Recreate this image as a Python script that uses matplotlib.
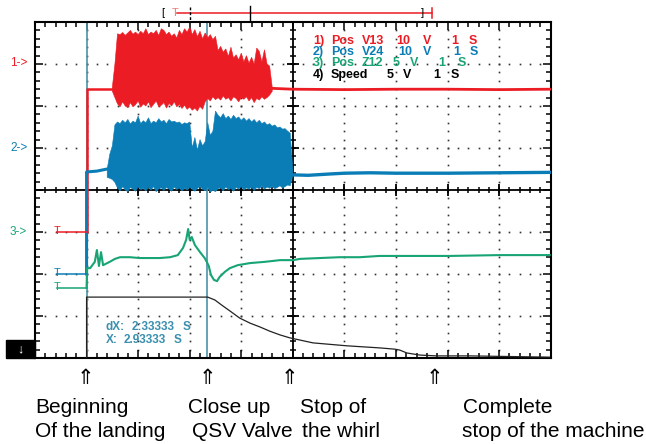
import numpy as np
import matplotlib
matplotlib.use("Agg")
import matplotlib.pyplot as plt
import matplotlib.transforms as mtransforms
from matplotlib.patches import Rectangle

plt.rcParams['font.family'] = ['Liberation Sans', 'DejaVu Sans']

# Screen units: x in seconds (1 s/div, 10 div), y in divisions (-4 .. 4)
RED = '#ec1c24'
BLUE = '#0b7db6'
GREEN = '#18a474'
CURSOR = '#4a94aa'

# Channel 1 (Pos V13) - red
ch1_pre_t = [1.0, 1.0, 1.5]
ch1_pre = [-1.0, 2.40, 2.40]
ch1_hi = [2.45, 3.00,
          3.72, 3.70, 3.75, 3.68, 3.74, 3.80, 3.71, 3.76, 3.70, 3.78,
          3.72, 3.84, 3.70, 3.76, 3.72, 3.80, 3.68, 3.84, 3.80, 3.70,
          3.76, 3.66, 3.72, 3.62, 3.80, 3.70, 3.84, 3.76, 3.88, 3.70,
          3.82, 3.65, 3.78, 3.60, 3.74, 3.62, 3.70, 3.58, 3.66, 3.32,
          3.42, 3.28, 3.36, 3.18, 3.40, 3.14, 3.22, 3.10, 3.26, 3.05,
          3.20, 3.02, 3.16, 3.00, 3.38, 3.30, 3.05, 3.34, 3.00, 2.95,
          2.45]
ch1_lo = [2.35, 2.20,
          2.05, 1.98, 2.10, 2.00, 1.96, 2.08, 1.98, 2.03, 2.12, 1.97,
          2.05, 2.00, 2.10, 1.96, 2.04, 2.12, 1.98, 2.02, 2.08, 1.95,
          2.06, 2.00, 2.10, 1.98, 2.04, 1.94, 2.02, 1.92, 1.98, 1.90,
          1.95, 1.88, 2.00, 1.92, 2.10, 2.18, 2.12, 2.22, 2.15, 2.20,
          2.14, 2.24, 2.16, 2.20, 2.12, 2.22, 2.18, 2.10, 2.20, 2.16,
          2.22, 2.12, 2.20, 2.08, 2.18, 2.14, 2.22, 2.16, 2.20, 2.26,
          2.35]
ch1_burst_span = (1.50, 4.60)
ch1_post_t = [4.6, 5.0, 6.0, 7.0, 8.0, 9.0, 10.0]
ch1_post = [2.42, 2.40, 2.39, 2.40, 2.40, 2.39, 2.40]

# Channel 2 (Pos V24) - blue
ch2_pre_t = [1.0, 1.0, 1.2, 1.4]
ch2_pre = [-2.0, 0.43, 0.45, 0.50]
ch2_hi = [0.50, 0.85, 1.05, 1.55,
          1.62, 1.58, 1.66, 1.60, 1.68, 1.57, 1.64, 1.60, 1.76, 1.58,
          1.65, 1.60, 1.72, 1.58, 1.64, 1.60, 1.70, 1.62, 1.66, 1.58,
          1.68, 1.62, 1.64, 1.60, 1.62, 1.56, 1.60, 1.58, 1.62, 1.00,
          1.25, 0.95, 1.20, 1.05, 1.15, 1.60, 1.30, 1.40, 1.88, 1.78,
          1.72, 1.82, 1.70, 1.76, 1.68, 1.78, 1.70, 1.74, 1.66, 1.72,
          1.64, 1.70, 1.62, 1.68, 1.60, 1.66, 1.58, 1.62, 1.55, 1.58,
          1.52, 1.55, 1.48, 1.50, 1.45, 1.46, 1.40, 1.35,
          0.45]
ch2_lo = [0.30, 0.28, 0.25, 0.18,
          0.05, -0.02, 0.08, 0.00, -0.04, 0.06, 0.02, -0.03, 0.07, 0.01,
          0.04, -0.02, 0.06, 0.00, 0.08, -0.04, 0.03, 0.05, -0.01, 0.06,
          0.02, -0.03, 0.07, 0.01, 0.05, -0.02, 0.04, 0.00, 0.06, 0.02,
          -0.03, 0.04, 0.08, 0.02, -0.02, 0.06, -0.05, 0.00, -0.04, 0.03,
          0.05, -0.02, 0.07, 0.01, 0.04, -0.03, 0.06, 0.02, 0.08, 0.00,
          0.05, 0.02, 0.07, -0.01, 0.06, 0.03, 0.09, 0.02, 0.07, 0.04,
          0.08, 0.03, 0.06, 0.10, 0.05, 0.08, 0.12, 0.10,
          0.35]
ch2_burst_span = (1.40, 5.00)
ch2_post_t = [5.0, 5.3, 5.7, 6.0, 6.5, 7.0, 8.0, 9.0, 10.0]
ch2_post = [0.36, 0.35, 0.38, 0.40, 0.41, 0.40, 0.40, 0.41, 0.42]

# Channel 3 (Pos Z12) - green
ch3_t = [1.00, 1.01, 1.07, 1.16, 1.20, 1.24, 1.28, 1.32, 1.45, 1.55, 1.65,
         1.84, 2.03, 2.23, 2.42, 2.62, 2.77, 2.87, 2.93, 2.97, 3.00, 3.04,
         3.10, 3.20, 3.29, 3.33, 3.37, 3.41, 3.47, 3.53, 3.58, 3.68, 3.78,
         3.93, 4.17, 4.46, 4.75, 5.00, 5.14, 5.52, 5.91, 6.30, 6.68, 7.07,
         8.04, 9.01, 9.98]
ch3 = [-2.33, -1.86, -1.86, -1.71, -1.43, -1.81, -1.48, -1.79, -1.71, -1.64,
       -1.60, -1.60, -1.62, -1.62, -1.62, -1.60, -1.55, -1.38, -1.19, -0.93,
       -1.19, -1.12, -1.31, -1.48, -1.62, -1.71, -1.81, -2.02, -2.14, -2.17,
       -2.07, -1.95, -1.86, -1.79, -1.74, -1.71, -1.67, -1.67, -1.64, -1.62,
       -1.60, -1.60, -1.57, -1.57, -1.57, -1.55, -1.55]

# Channel 4 (Speed) - black
ch4_t = [1.0, 1.0, 2.23, 3.35, 3.49, 3.62, 3.78, 3.97, 4.17, 4.36, 4.55,
         4.75, 4.94, 5.39, 6.05, 6.69, 6.98, 7.07, 7.21, 7.46, 7.79, 8.43, 9.98]
ch4 = [-4.0, -2.55, -2.55, -2.55, -2.62, -2.74, -2.88, -3.05, -3.17, -3.26,
       -3.36, -3.45, -3.52, -3.64, -3.71, -3.76, -3.79, -3.81, -3.88, -3.93,
       -3.95, -3.95, -3.98]

cursor_t = [1.0, 3.333]

legend_rows = [
    (RED, 41, [("1)", 313), ("Pos", 330.7), ("V13", 361.7), ("10", 396.7), ("V", 422.7), ("1", 451.7), ("S", 469)]),
    (BLUE, 52.3, [("2)", 313), ("Pos", 330.7), ("V24", 361.7), ("10", 398), ("V", 423.3), ("1", 453.3), ("S", 470)]),
    (GREEN, 63.3, [("3)", 313), ("Pos", 330.7), ("Z12", 361.7), ("5", 393), ("V", 410), ("1", 438), ("S", 458)]),
    ('black', 75, [("4)", 313), ("Speed", 330.7), ("5", 386.7), ("V", 403), ("1", 433), ("S", 450.7)]),
]
cursor_rows = [
    (326.7, [("dX:", 106), ("2:33333", 131.7), ("S", 182.7)]),
    (340, [("X:", 106), ("2.93333", 123.3), ("S", 173.3)]),
]
event_t = [0.97, 3.35, 4.94, 7.75]
event_labels = [("Beginning", "Of the landing", 35, 35),
                ("Close up", "QSV Valve", 188, 192),
                ("Stop of", "the whirl", 300, 302),
                ("Complete", "stop of the machine", 463, 462)]

W, H = 646, 444


def fx(x):
    return x / W


def fy(y):
    return 1 - y / H


fig = plt.figure(figsize=(W / 100, H / 100), dpi=100)
ax = fig.add_axes([fx(35), fy(358), 515.7 / W, 336 / H])
ax.set_xlim(0, 10)
ax.set_ylim(-4, 4)

ax.set_xticks(range(11))
ax.set_yticks(range(-4, 5))
ax.set_xticks(np.arange(0, 10.01, 0.2), minor=True)
ax.set_yticks(np.arange(-4, 4.01, 0.2), minor=True)
ax.tick_params(which='both', direction='in', top=True, right=True,
               labelleft=False, labelbottom=False, width=1.1, color='k')
ax.tick_params(which='major', length=6)
ax.tick_params(which='minor', length=3.5)
for s in ax.spines.values():
    s.set_linewidth(1.5)

# dotted graticule
gx = np.arange(0.2, 10, 0.2)
gy = np.arange(-3.8, 4, 0.2)
for yv in [-3, -2, -1, 1, 2, 3]:
    ax.plot(gx, np.full_like(gx, yv), ls='none', marker='s', ms=1.2,
            mew=0, color='#333333', zorder=1)
for xv in [1, 2, 3, 4, 6, 7, 8, 9]:
    ax.plot(np.full_like(gy, xv), gy, ls='none', marker='s', ms=1.2,
            mew=0, color='#333333', zorder=1)

# centre cross with ticks
ax.axhline(0, color='k', lw=1.3, zorder=1.5)
ax.axvline(5, color='k', lw=1.3, zorder=1.5)
mx = np.arange(0, 10.01, 0.2)
my = np.arange(-4, 4.01, 0.2)
ax.plot(mx, np.zeros_like(mx), ls='none', marker='|', ms=5, mew=1.1, color='k', zorder=1.5)
ax.plot(np.full_like(my, 5), my, ls='none', marker='_', ms=5, mew=1.1, color='k', zorder=1.5)
ax.plot(range(11), np.zeros(11), ls='none', marker='|', ms=8, mew=1.3, color='k', zorder=1.5)
ax.plot(np.full(9, 5), range(-4, 5), ls='none', marker='_', ms=8, mew=1.3, color='k', zorder=1.5)

# cursors
for ct in cursor_t:
    ax.axvline(ct, color=CURSOR, lw=1.2, zorder=2)


def burst(span, hi, lo, color):
    th = np.linspace(span[0], span[1], len(hi))
    tl = np.linspace(span[0], span[1], len(lo))
    ax.fill(np.r_[th, tl[::-1]], np.r_[hi, lo[::-1]], color=color,
            lw=0.4, zorder=3)


# channel 1
ax.plot(ch1_pre_t, ch1_pre, color=RED, lw=1.8, zorder=3)
burst(ch1_burst_span, ch1_hi, ch1_lo, RED)
ax.plot(ch1_post_t, ch1_post, color=RED, lw=2.0, zorder=3)
# channel 2
ax.plot(ch2_pre_t, ch2_pre, color=BLUE, lw=2.2, zorder=3)
burst(ch2_burst_span, ch2_hi, ch2_lo, BLUE)
ax.plot(ch2_post_t, ch2_post, color=BLUE, lw=2.4, zorder=3)
# channel 3
ax.plot(ch3_t, ch3, color=GREEN, lw=1.5, zorder=3)
# channel 4
ax.plot(ch4_t, ch4, color='#222222', lw=0.9, zorder=3)

# trigger level markers
for lvl, c in [(-1.0, RED), (-2.0, BLUE), (-2.33, GREEN)]:
    ax.plot([0.43, 1.0], [lvl, lvl], color=c, lw=1.1, zorder=3, clip_on=False)
    ax.text(0.43, lvl + 0.02, "T", color=c, fontsize=8, ha='center', va='center')

# channel reference labels
for txt, c, y in [("1->", RED, 63), ("2->", BLUE, 148), ("3->", GREEN, 232)]:
    fig.text(fx(10), fy(y), txt, color=c, fontsize=8.5, va='center', ha='left')

# legend block
for c, y, toks in legend_rows:
    for s, x in toks:
        fig.text(fx(x), fy(y), s, color=c, fontsize=9, fontweight='bold',
                 va='center', ha='left')

# cursor readout
for y, toks in cursor_rows:
    for s, x in toks:
        fig.text(fx(x), fy(y), s, color='#3a8fae', fontsize=8.5, fontweight='bold',
                 va='center', ha='left')

# top time-window bar
tb = mtransforms.blended_transform_factory(ax.transData, fig.transFigure)
ax.plot([2.75, 7.69], [fy(13), fy(13)], color=RED, lw=1.1, transform=tb, clip_on=False)
ax.plot([7.69, 7.69], [fy(8), fy(18)], color=RED, lw=1.1, transform=tb, clip_on=False)
ax.plot([3.0, 3.0], [fy(7), fy(20)], color='k', lw=1.0, ls=(0, (2, 1.5)), transform=tb, clip_on=False)
ax.plot([4.17, 4.17], [fy(6), fy(20)], color='k', lw=1.0, transform=tb, clip_on=False)
fig.text(fx(163), fy(13), "[", fontsize=8, va='center', ha='center')
fig.text(fx(175), fy(13), "T", color='#f07878', fontsize=8, va='center', ha='center')
fig.text(fx(422), fy(13), "]", fontsize=8, va='center', ha='center')

# down-arrow box
fig.add_artist(Rectangle((fx(6), fy(358)), 29 / W, 18 / H, transform=fig.transFigure,
                         color='black'))
fig.text(fx(20.5), fy(349), "↓", color='white', fontsize=9, fontweight='bold',
         ha='center', va='center')

# event arrows and captions
for t in event_t:
    ax.text(t, -4.48, "⇑", fontsize=15, ha='center', va='center',
            family=['DejaVu Sans'])
for l1, l2, x1, x2 in event_labels:
    fig.text(fx(x1), fy(413), l1, fontsize=15, va='baseline', ha='left')
    fig.text(fx(x2), fy(437), l2, fontsize=15, va='baseline', ha='left')

fig.savefig("out.png", dpi=100)
